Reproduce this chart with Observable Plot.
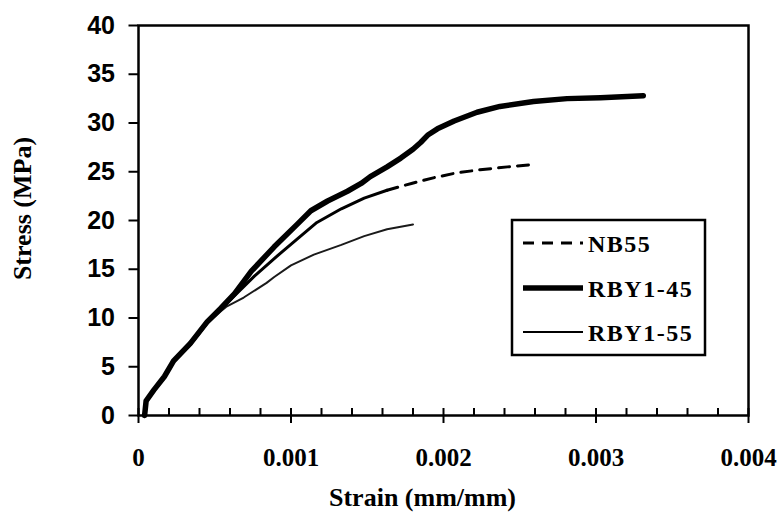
<!DOCTYPE html>
<html><head><meta charset="utf-8">
<script src="https://cdn.jsdelivr.net/npm/d3@7"></script>
<script src="https://cdn.jsdelivr.net/npm/@observablehq/plot@0.6"></script>
<style>
body{margin:0;background:#fff;}
#chart{position:relative;width:784px;height:523px;}
</style></head><body><div id="chart"></div>
<script>
const seriesNames = ["NB55", "RBY1-45", "RBY1-55"];

const nb55Strain = [0.00004,0.00005,0.0001,0.00017,0.00023,0.00034,0.00045,0.00054,0.00063,0.00076,0.00089,0.00104,0.00117,0.00133,0.00148,0.00163,0.00179,0.00194,0.00209,0.00224,0.00242,0.00256];
const nb55Stress = [0,1.4,2.5,3.9,5.5,7.3,9.5,10.9,12.3,14.3,16.1,18.1,19.8,21.2,22.3,23.1,23.8,24.4,24.9,25.2,25.5,25.7];

const rby45Strain = [0.00004,0.00005,0.0001,0.00017,0.00023,0.00034,0.00045,0.00054,0.00063,0.00074,0.00089,0.00104,0.00113,0.00124,0.00137,0.00146,0.00152,0.00163,0.00172,0.0018,0.00185,0.0019,0.00196,0.00207,0.00222,0.00237,0.00259,0.00281,0.00303,0.00331];
const rby45Stress = [0,1.5,2.6,4.0,5.6,7.4,9.6,11.0,12.5,14.8,17.3,19.6,21.0,22.0,23.0,23.8,24.5,25.5,26.4,27.3,28.0,28.8,29.4,30.2,31.1,31.7,32.2,32.5,32.6,32.8];

const rby55Strain = [0.00004,0.00005,0.0001,0.00017,0.00023,0.00034,0.00045,0.00054,0.00058,0.00069,0.00084,0.00089,0.001,0.00115,0.00133,0.00148,0.00163,0.0018];
const rby55Stress = [0,1.4,2.5,3.9,5.5,7.2,9.4,10.7,11.2,12.1,13.6,14.2,15.4,16.5,17.5,18.4,19.1,19.6];

const nbDashFrom = 0.00163;

const yTicks = [0,5,10,15,20,25,30,35,40];
const xTicks = [0,0.001,0.002,0.003,0.004];
const xTickLabels = ["0","0.001","0.002","0.003","0.004"];
const xMinorTicks = [0,0.0002,0.0004,0.0006,0.0008,0.001,0.0012,0.0014,0.0016,0.0018,0.002,0.0022,0.0024,0.0026,0.0028,0.003,0.0032,0.0034,0.0036,0.0038,0.004];
const xTitle = "Strain (mm/mm)";
const yTitle = "Stress (MPa)";

const toRows = (xs, ys, name) => xs.map((x, i) => ({strain: x, stress: ys[i], series: name}));
const nb55 = toRows(nb55Strain, nb55Stress, seriesNames[0]);
const rby45 = toRows(rby45Strain, rby45Stress, seriesNames[1]);
const rby55 = toRows(rby55Strain, rby55Stress, seriesNames[2]);

const styles = {
  "NB55": {strokeWidth: 3, dash: "11,8"},
  "RBY1-45": {strokeWidth: 5.5, dash: null},
  "RBY1-55": {strokeWidth: 2, dash: null}
};

const serif = "'Liberation Serif','Times New Roman',serif";
const sans = "'Liberation Sans',Arial,sans-serif";

const plot = Plot.plot({
  width: 784, height: 523,
  marginLeft: 138, marginRight: 36, marginTop: 25, marginBottom: 108,
  x: {domain: [0, 0.004]},
  y: {domain: [0, 40]},
  style: {background: "white", color: "black"},
  marks: [
    Plot.axisY({ticks: yTicks, tickSize: 9.5, tickPadding: 14, label: null, fontSize: 25, fontFamily: sans, fontWeight: "bold", strokeWidth: 2}),
    Plot.axisX({ticks: xMinorTicks, tickSize: -7, tickFormat: () => "", label: null, strokeWidth: 2}),
    Plot.axisX({ticks: xTicks, tickSize: 8, tickPadding: 25, tickFormat: d => xTickLabels[xTicks.indexOf(d)], label: null, fontSize: 25, fontFamily: serif, fontWeight: "bold", strokeWidth: 2}),
    Plot.frame({stroke: "black", strokeWidth: 2.5}),
    Plot.line(rby55, {x: "strain", y: "stress", stroke: "#1a1a1a", strokeWidth: styles["RBY1-55"].strokeWidth}),
    Plot.line(nb55.filter(d => d.strain <= nbDashFrom), {x: "strain", y: "stress", stroke: "black", strokeWidth: styles["NB55"].strokeWidth}),
    Plot.line(nb55.filter(d => d.strain >= nbDashFrom), {x: "strain", y: "stress", stroke: "black", strokeWidth: styles["NB55"].strokeWidth, strokeDasharray: styles["NB55"].dash}),
    Plot.line(rby45, {x: "strain", y: "stress", stroke: "black", strokeWidth: styles["RBY1-45"].strokeWidth, strokeLinecap: "round", strokeLinejoin: "round"}),
    Plot.text([xTitle], {frameAnchor: "bottom", dx: -21, dy: 90, fontSize: 26, fontFamily: serif, fontWeight: "bold", fill: "black"}),
    Plot.text([yTitle], {frameAnchor: "left", textAnchor: "middle", dx: -116, dy: -12, rotate: -90, fontSize: 26, fontFamily: serif, fontWeight: "bold", fill: "black"})
  ]
});

document.getElementById("chart").appendChild(plot);

// Legend box
const svg = d3.select(plot);
const lg = svg.append("g").attr("transform", "translate(512,220)");
lg.append("rect").attr("x", 0).attr("y", 0).attr("width", 193).attr("height", 135)
  .attr("fill", "white").attr("stroke", "black").attr("stroke-width", 2.5);
const rowY = [23, 68, 112];
seriesNames.forEach((name, i) => {
  const s = styles[name];
  lg.append("line").attr("x1", 11).attr("x2", 71).attr("y1", rowY[i]).attr("y2", rowY[i])
    .attr("stroke", "black").attr("stroke-width", s.strokeWidth)
    .attr("stroke-dasharray", s.dash);
  lg.append("text").attr("x", 76).attr("y", rowY[i] + 9)
    .attr("text-anchor", "start")
    .attr("font-family", serif).attr("font-weight", "bold").attr("font-size", 24)
    .attr("letter-spacing", "1.5px").attr("fill", "black").text(name);
});
</script></body></html>
